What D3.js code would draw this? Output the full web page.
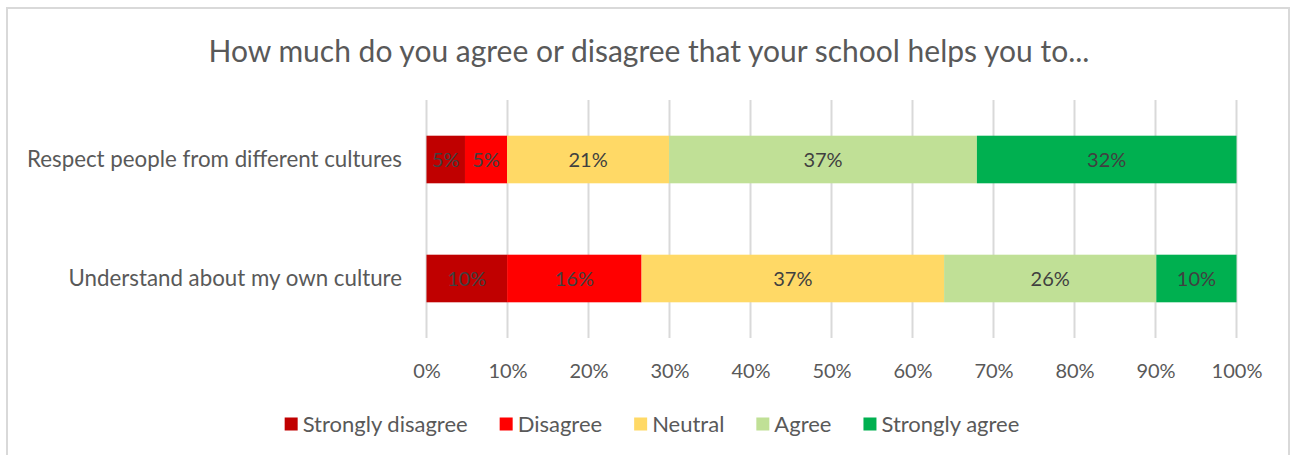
<!DOCTYPE html>
<html lang="en">
<head>
  <meta charset="UTF-8">
  <title>Stacked Bar</title>
  <style>
    body {
      margin: 0;
      background: #ffffff;
      font-family: Lato, "Open Sans", sans-serif;
    }
    svg text { fill: #595959; }
    .bar-label { fill: #404040; }
  </style>
</head>
<body>
  <div id="chart"></div>

  <script src="https://d3js.org/d3.v7.min.js"></script>
  <script>
    const title = "How much do you agree or disagree that your school helps you to...";
    const categories = ["Respect people from different cultures", "Understand about my own culture"];
    const seriesNames = ["Strongly disagree", "Disagree", "Neutral", "Agree", "Strongly agree"];
    const seriesColors = ["#c00000", "#ff0000", "#ffd966", "#c0e096", "#00b050"];
    // share of each answer (bar widths), per category
    const respectValues = [4.75, 5.2, 20.0, 38.0, 32.05];
    const understandValues = [9.95, 16.6, 37.35, 26.2, 9.9];
    // printed labels on the segments
    const respectLabels = ["5%", "5%", "21%", "37%", "32%"];
    const understandLabels = ["10%", "16%", "37%", "26%", "10%"];
    const tickValues = [0, 10, 20, 30, 40, 50, 60, 70, 80, 90, 100];

    const width = 1293;
    const height = 455;
    const plot = { left: 426.5, right: 1236.5, top: 100, bottom: 338 };

    const svg = d3.select("#chart")
      .append("svg")
      .attr("width", width)
      .attr("height", height);

    // outer frame
    svg.append("rect")
      .attr("x", 7).attr("y", 8)
      .attr("width", 1282).attr("height", 460)
      .attr("fill", "none")
      .attr("stroke", "#d9d9d9")
      .attr("stroke-width", 2);

    svg.append("text")
      .attr("x", 649)
      .attr("y", 62)
      .attr("text-anchor", "middle")
      .style("font-size", "30px")
      .text(title);

    const x = d3.scaleLinear().domain([0, 100]).range([plot.left, plot.right]);
    const y = d3.scaleBand().domain(categories).range([plot.top, plot.bottom]).paddingInner(0.6).paddingOuter(0.3);

    // gridlines
    svg.append("g")
      .selectAll("line")
      .data(tickValues)
      .enter()
      .append("line")
      .attr("x1", (d) => x(d)).attr("x2", (d) => x(d))
      .attr("y1", plot.top).attr("y2", plot.bottom)
      .attr("stroke", "#d9d9d9")
      .attr("stroke-width", 2);

    const rows = [
      { category: categories[0], values: respectValues, labels: respectLabels },
      { category: categories[1], values: understandValues, labels: understandLabels }
    ];

    rows.forEach((row) => {
      const stack = d3.cumsum(row.values);
      const segs = row.values.map((v, i) => ({
        x0: i === 0 ? 0 : stack[i - 1],
        x1: stack[i],
        color: seriesColors[i],
        label: row.labels[i]
      }));
      const g = svg.append("g");
      g.selectAll("rect")
        .data(segs)
        .enter()
        .append("rect")
        .attr("x", (d) => x(d.x0))
        .attr("y", y(row.category))
        .attr("width", (d) => x(d.x1) - x(d.x0))
        .attr("height", y.bandwidth())
        .attr("fill", (d) => d.color);
      g.selectAll("text")
        .data(segs)
        .enter()
        .append("text")
        .attr("class", "bar-label")
        .attr("x", (d) => (x(d.x0) + x(d.x1)) / 2)
        .attr("y", y(row.category) + y.bandwidth() / 2)
        .attr("dy", "0.35em")
        .attr("text-anchor", "middle")
        .style("font-size", "20px")
        .text((d) => d.label);
    });

    // category axis labels
    svg.append("g")
      .selectAll("text")
      .data(categories)
      .enter()
      .append("text")
      .attr("x", 402)
      .attr("y", (d) => y(d) + y.bandwidth() / 2)
      .attr("dy", "0.35em")
      .attr("text-anchor", "end")
      .style("font-size", "22.3px")
      .text((d) => d);

    // value axis
    const axis = svg.append("g")
      .attr("transform", `translate(0, ${plot.bottom})`)
      .call(d3.axisBottom(x).tickValues(tickValues).tickFormat((d) => d + "%").tickSize(0).tickPadding(26));
    axis.select(".domain").remove();
    axis.selectAll("text")
      .style("font-family", "Lato, sans-serif")
      .style("font-size", "20px")
      .attr("fill", "#595959");

    // legend
    const legend = svg.append("g").attr("transform", "translate(0, 424)");
    const items = legend.selectAll("g")
      .data(seriesNames)
      .enter()
      .append("g");
    items.append("rect")
      .attr("width", 13).attr("height", 13)
      .attr("y", -6.5)
      .attr("fill", (d, i) => seriesColors[i]);
    items.append("text")
      .attr("x", 18)
      .attr("dy", "0.35em")
      .style("font-size", "22px")
      .text((d) => d);
    let pos = 0;
    const gaps = [];
    items.each(function () {
      gaps.push(pos);
      pos += this.getBBox().width + 32;
    });
    const total = pos - 32;
    const start = 652 - total / 2;
    items.attr("transform", (d, i) => `translate(${start + gaps[i]}, 0)`);
  </script>
</body>
</html>
